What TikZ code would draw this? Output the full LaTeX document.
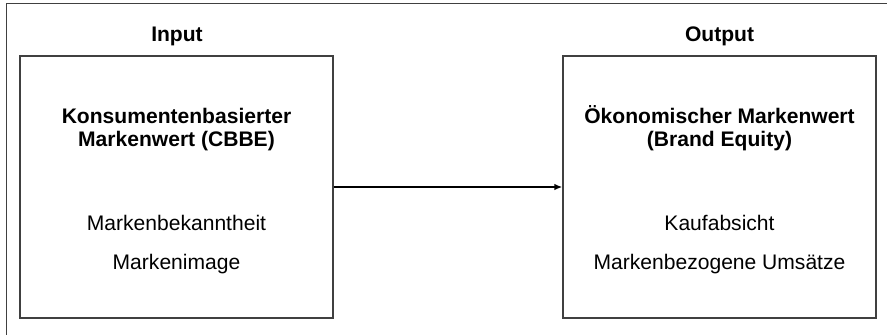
\documentclass[tikz,border=0pt]{standalone}
\usepackage{fontspec}
\setmainfont{Liberation Sans}
\usetikzlibrary{arrows.meta}

\begin{document}
\begin{tikzpicture}[x=0.75pt,y=-0.75pt]

                \tikzset{frame/.style = {draw=black!75,line width=0.75pt}}
                \tikzset{box/.style = {shape=rectangle,draw=black!75,line width=1.1pt,minimum width=234.75pt,minimum height=196.5pt,inner sep=0pt}}
                \tikzset{head/.style = {font=\bfseries\fontsize{15.8}{17.25}\selectfont,align=center,anchor=base,inner sep=0pt}}
                \tikzset{item/.style = {font=\fontsize{15.8}{29.25}\selectfont,align=center,anchor=base,inner sep=0pt}}
                \tikzset{edge/.style = {-{Latex[length=6pt,width=5pt]},line width=1.1pt}}
                \useasboundingbox (0,0) rectangle (887,335);
                \draw[frame] (887,4) -- (6,4) -- (6,335);
                \node[head] (in) at (177,41) {Input};
                \node[head] (out) at (719.5,41) {Output};
                \node[box] (cbbe) at (176.5,187) {};
                \node[box] (be) at (719.5,187) {};
                \node[head] (cbbet) at (176.5,146) {Konsumentenbasierter\\Markenwert (CBBE)};
                \node[head] (bet) at (719.5,146) {Ökonomischer Markenwert\\(Brand Equity)};
                \node[item] (cbbei) at (176.5,269) {Markenbekanntheit\\Markenimage};
                \node[item] (bei) at (719.5,269) {Kaufabsicht\\Markenbezogene Umsätze};
                \draw[edge] (cbbe) -- (be);
            \end{tikzpicture}
\end{document}
